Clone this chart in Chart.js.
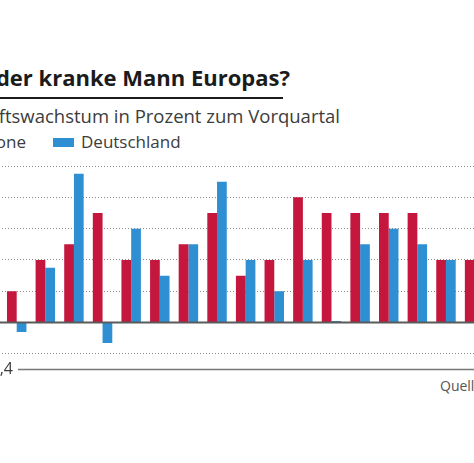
<!DOCTYPE html>
<html lang="de">
<head>
<meta charset="utf-8">
<script src="https://cdn.jsdelivr.net/npm/chart.js@4/dist/chart.umd.min.js"></script>
<style>
    html, body { margin: 0; padding: 0; background: #fff; }
    body { width: 474px; height: 463px; position: relative; overflow: hidden; font-family: 'Open Sans', sans-serif; }
    .txt { position: absolute; white-space: nowrap; }
    #title { right: 184px; top: 62px; font-size: 22px; font-weight: 700; color: #1b1b1b; }
    #rule { position: absolute; left: 0; top: 97px; width: 283px; height: 2px; background: #1b1b1b; }
    #subtitle { right: 134px; top: 103px; font-size: 18.5px; color: #3c3c3c; }
    #legend-eu { right: 448px; top: 130px; font-size: 17px; color: #3c3c3c; }
    #legend-de { left: 53px; top: 130px; font-size: 17px; color: #3c3c3c; }
    .box { display: inline-block; width: 21px; height: 9px; margin-right: 7px; vertical-align: 1px; }
    #source { left: 440px; top: 376px; font-size: 14px; color: #555; }
    #chart { position: absolute; left: -40px; top: 150px; }
</style>
</head>
<body>
<div id="title" class="txt">Ist Deutschland wieder der kranke Mann Europas?</div>
<div id="rule"></div>
<div id="subtitle" class="txt">Wirtschaftswachstum in Prozent zum Vorquartal</div>
<div id="legend-eu" class="txt"></div>
<div id="legend-de" class="txt"></div>
<div id="source" class="txt">Quelle: Eurostat</div>
<canvas id="chart" width="560" height="240"></canvas>
<script>
// Quartale (Beschriftung im Ausschnitt nicht sichtbar)
const quarters = ['Q1 2015', 'Q2 2015', 'Q3 2015', 'Q4 2015', 'Q1 2016', 'Q2 2016', 'Q3 2016', 'Q4 2016',
    'Q1 2017', 'Q2 2017', 'Q3 2017', 'Q4 2017', 'Q1 2018', 'Q2 2018', 'Q3 2018', 'Q4 2018', 'Q1 2019'];
const eurozone = [0.2, 0.4, 0.5, 0.7, 0.4, 0.4, 0.5, 0.7, 0.3, 0.4, 0.8, 0.7, 0.7, 0.7, 0.7, 0.4, 0.4];
const deutschland = [-0.06, 0.35, 0.95, -0.13, 0.6, 0.3, 0.5, 0.9, 0.4, 0.2, 0.4, 0.01, 0.5, 0.6, 0.5, 0.4, 0.5];
const seriesNames = ['Eurozone', 'Deutschland'];
const seriesColors = ['#c5173e', '#2f8fd3'];
const yTicks = [-0.2, 0, 0.2, 0.4, 0.6, 0.8, 1.0];
const yMin = -0.3, yMax = 1.0;
const bottomLabel = '-0,4';

// HTML legend
['legend-eu', 'legend-de'].forEach((id, i) => {
    const el = document.getElementById(id);
    el.innerHTML = `<span class="box" style="background:${seriesColors[i]}"></span>${seriesNames[i]}`;
});

const axisLines = {
    id: 'axisLines',
    afterDatasetsDraw(chart) {
        const { ctx, chartArea, scales } = chart;
        const y0 = scales.y.getPixelForValue(0);
        ctx.save();
        ctx.strokeStyle = '#5a5a5a';
        ctx.lineWidth = 2;
        ctx.beginPath();
        ctx.moveTo(0, y0);
        ctx.lineTo(chart.width, y0);
        ctx.stroke();

        const yb = Math.round(chartArea.bottom) - 0.5;
        ctx.strokeStyle = '#777';
        ctx.lineWidth = 1.5;
        ctx.beginPath();
        ctx.moveTo(58, yb);
        ctx.lineTo(chart.width, yb);
        ctx.stroke();

        ctx.fillStyle = '#3c3c3c';
        ctx.font = "16px 'Open Sans'";
        ctx.textAlign = 'right';
        ctx.textBaseline = 'middle';
        ctx.fillText(bottomLabel, 53, yb);
        ctx.restore();
    }
};

new Chart(document.getElementById('chart'), {
    type: 'bar',
    data: {
        labels: quarters,
        datasets: [
            { label: seriesNames[0], data: eurozone, backgroundColor: seriesColors[0] },
            { label: seriesNames[1], data: deutschland, backgroundColor: seriesColors[1] }
        ]
    },
    options: {
        responsive: false,
        animation: false,
        categoryPercentage: 0.68,
        barPercentage: 1.0,
        layout: { padding: { left: 42.4, right: 31.1, top: 16, bottom: 20.4 } },
        plugins: { legend: { display: false }, tooltip: { enabled: false } },
        scales: {
            x: { display: false },
            y: {
                min: yMin,
                max: yMax,
                afterBuildTicks: (scale) => { scale.ticks = yTicks.map(v => ({ value: v })); },
                ticks: { display: false },
                border: { display: false, dash: [1, 2] },
                grid: {
                    drawTicks: false,
                    lineWidth: 1,
                    color: (c) => (c.tick && Math.abs(c.tick.value) < 1e-9) ? 'rgba(0,0,0,0)' : '#8a8a8a'
                }
            }
        }
    },
    plugins: [axisLines]
});
</script>
</body>
</html>
